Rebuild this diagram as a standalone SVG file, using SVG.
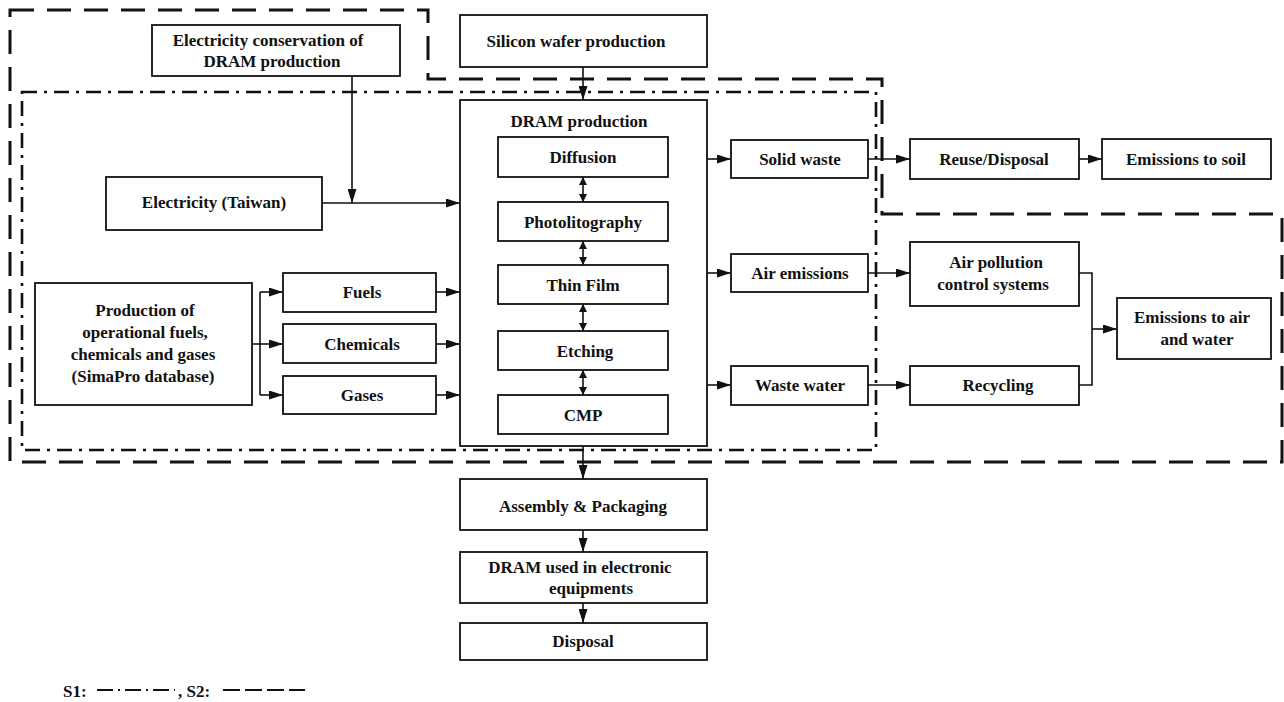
<svg xmlns="http://www.w3.org/2000/svg" width="1284" height="702" viewBox="0 0 1284 702">
<style>
.b{fill:#fff;stroke:#111;stroke-width:1.8}
.t{font-family:"Liberation Serif","Times New Roman",serif;font-weight:bold;font-size:17px;fill:#111;text-anchor:middle}
.c{fill:none;stroke:#111;stroke-width:1.6}
.s1{fill:none;stroke:#111;stroke-width:2.6;stroke-dasharray:15 7 3 7}
.s2{fill:none;stroke:#111;stroke-width:3;stroke-dasharray:24 13}
</style>
<defs>
<marker id="ah" viewBox="0 0 14 9" refX="14" refY="4.5" markerWidth="14" markerHeight="9" markerUnits="userSpaceOnUse" orient="auto"><path d="M0,0 L14,4.5 L0,9 z" fill="#111"/></marker>
<marker id="sh" viewBox="0 0 8 8" refX="8" refY="4" markerWidth="8" markerHeight="8" markerUnits="userSpaceOnUse" orient="auto"><path d="M0,0 L8,4 L0,8 z" fill="#111"/></marker>
<marker id="ss" viewBox="0 0 8 8" refX="0" refY="4" markerWidth="8" markerHeight="8" markerUnits="userSpaceOnUse" orient="auto"><path d="M8,0 L0,4 L8,8 z" fill="#111"/></marker>
</defs>
<rect width="1284" height="702" fill="#fff"/>

<g id="boundaries">
<path class="s2" d="M10,10 H428 V79 H882 V214 H1282 V462 H10 Z"/>
<path class="s1" d="M22,92 H876 V450 H22 Z"/>
</g>

<g id="elec-conservation"><rect class="b" x="152" y="25" width="248" height="51"/><text class="t" x="268" y="46">Electricity conservation of</text><text class="t" x="272" y="67">DRAM production</text></g>
<g id="silicon"><rect class="b" x="460" y="15" width="247" height="52"/><text class="t" x="576" y="47">Silicon wafer production</text></g>
<g id="elec-taiwan"><rect class="b" x="106" y="177" width="216" height="53"/><text class="t" x="214" y="208">Electricity (Taiwan)</text></g>
<g id="production"><rect class="b" x="35" y="283" width="217" height="122"/><text class="t" x="145" y="316">Production of</text><text class="t" x="145" y="338">operational fuels,</text><text class="t" x="143" y="360">chemicals and gases</text><text class="t" x="143" y="382">(SimaPro database)</text></g>
<g id="fuels"><rect class="b" x="283" y="273" width="153" height="39"/><text class="t" x="362" y="298">Fuels</text></g>
<g id="chemicals"><rect class="b" x="283" y="324" width="153" height="39"/><text class="t" x="362" y="350">Chemicals</text></g>
<g id="gases"><rect class="b" x="283" y="376" width="153" height="38"/><text class="t" x="362" y="401">Gases</text></g>
<g id="dram"><rect class="b" x="460" y="100" width="247" height="346"/><text class="t" x="579" y="127">DRAM production</text></g>
<g id="diffusion"><rect class="b" x="498" y="137" width="170" height="40"/><text class="t" x="583" y="163">Diffusion</text></g>
<g id="photo"><rect class="b" x="498" y="202" width="170" height="39"/><text class="t" x="583" y="228">Photolitography</text></g>
<g id="thinfilm"><rect class="b" x="498" y="265" width="170" height="39"/><text class="t" x="583" y="291">Thin Film</text></g>
<g id="etching"><rect class="b" x="498" y="331" width="170" height="39"/><text class="t" x="585" y="357">Etching</text></g>
<g id="cmp"><rect class="b" x="498" y="395" width="170" height="39"/><text class="t" x="583" y="421">CMP</text></g>
<g id="solid"><rect class="b" x="731" y="140" width="137" height="38"/><text class="t" x="800" y="165">Solid waste</text></g>
<g id="air"><rect class="b" x="731" y="254" width="137" height="38"/><text class="t" x="800" y="279">Air emissions</text></g>
<g id="wastewater"><rect class="b" x="731" y="366" width="137" height="39"/><text class="t" x="800" y="391">Waste water</text></g>
<g id="reuse"><rect class="b" x="910" y="139" width="169" height="40"/><text class="t" x="994" y="165">Reuse/Disposal</text></g>
<g id="soil"><rect class="b" x="1102" y="139" width="169" height="40"/><text class="t" x="1186" y="165">Emissions to soil</text></g>
<g id="apc"><rect class="b" x="910" y="242" width="169" height="64"/><text class="t" x="996" y="268">Air pollution</text><text class="t" x="993" y="290">control systems</text></g>
<g id="recycling"><rect class="b" x="910" y="366" width="169" height="39"/><text class="t" x="998" y="391">Recycling</text></g>
<g id="airwater"><rect class="b" x="1117" y="298" width="154" height="61"/><text class="t" x="1192" y="323">Emissions to air</text><text class="t" x="1197" y="345">and water</text></g>
<g id="assembly"><rect class="b" x="460" y="479" width="247" height="51"/><text class="t" x="583" y="512">Assembly &amp; Packaging</text></g>
<g id="used"><rect class="b" x="460" y="552" width="247" height="51"/><text class="t" x="580" y="573">DRAM used in electronic</text><text class="t" x="591" y="594">equipments</text></g>
<g id="disposal"><rect class="b" x="460" y="623" width="247" height="37"/><text class="t" x="583" y="647">Disposal</text></g>

<g id="connectors">
<path class="c" d="M583,67 V100" marker-end="url(#ah)"/>
<path class="c" d="M352,76 V203" marker-end="url(#ah)"/>
<path class="c" d="M322,203 H460" marker-end="url(#ah)"/>
<path class="c" d="M252,344 H260 M260,292 V395"/>
<path class="c" d="M260,292 H283" marker-end="url(#ah)"/>
<path class="c" d="M260,344 H283" marker-end="url(#ah)"/>
<path class="c" d="M260,395 H283" marker-end="url(#ah)"/>
<path class="c" d="M436,292 H460" marker-end="url(#ah)"/>
<path class="c" d="M436,344 H460" marker-end="url(#ah)"/>
<path class="c" d="M436,395 H460" marker-end="url(#ah)"/>
<path class="c" d="M707,159 H731" marker-end="url(#ah)"/>
<path class="c" d="M707,273 H731" marker-end="url(#ah)"/>
<path class="c" d="M707,385 H731" marker-end="url(#ah)"/>
<path class="c" d="M868,159 H910" marker-end="url(#ah)"/>
<path class="c" d="M868,273 H910" marker-end="url(#ah)"/>
<path class="c" d="M868,385 H910" marker-end="url(#ah)"/>
<path class="c" d="M1079,159 H1102" marker-end="url(#ah)"/>
<path class="c" d="M1079,273 H1092 V385 H1079"/>
<path class="c" d="M1092,329 H1117" marker-end="url(#ah)"/>
<path class="c" d="M583,446 V479" marker-end="url(#ah)"/>
<path class="c" d="M583,530 V552" marker-end="url(#ah)"/>
<path class="c" d="M583,603 V623" marker-end="url(#ah)"/>
<path class="c" d="M583,177 V202" marker-start="url(#ss)" marker-end="url(#sh)"/>
<path class="c" d="M583,241 V265" marker-start="url(#ss)" marker-end="url(#sh)"/>
<path class="c" d="M583,304 V331" marker-start="url(#ss)" marker-end="url(#sh)"/>
<path class="c" d="M583,370 V395" marker-start="url(#ss)" marker-end="url(#sh)"/>
</g>

<g id="legend">
<text class="t" x="63" y="697" style="text-anchor:start">S1:</text>
<path d="M97,690 H175" fill="none" stroke="#111" stroke-width="2" stroke-dasharray="16 5 2 5"/>
<text class="t" x="178" y="697" style="text-anchor:start">, S2:</text>
<path d="M223,690 H305" fill="none" stroke="#111" stroke-width="2" stroke-dasharray="17 5"/>
</g>
</svg>
